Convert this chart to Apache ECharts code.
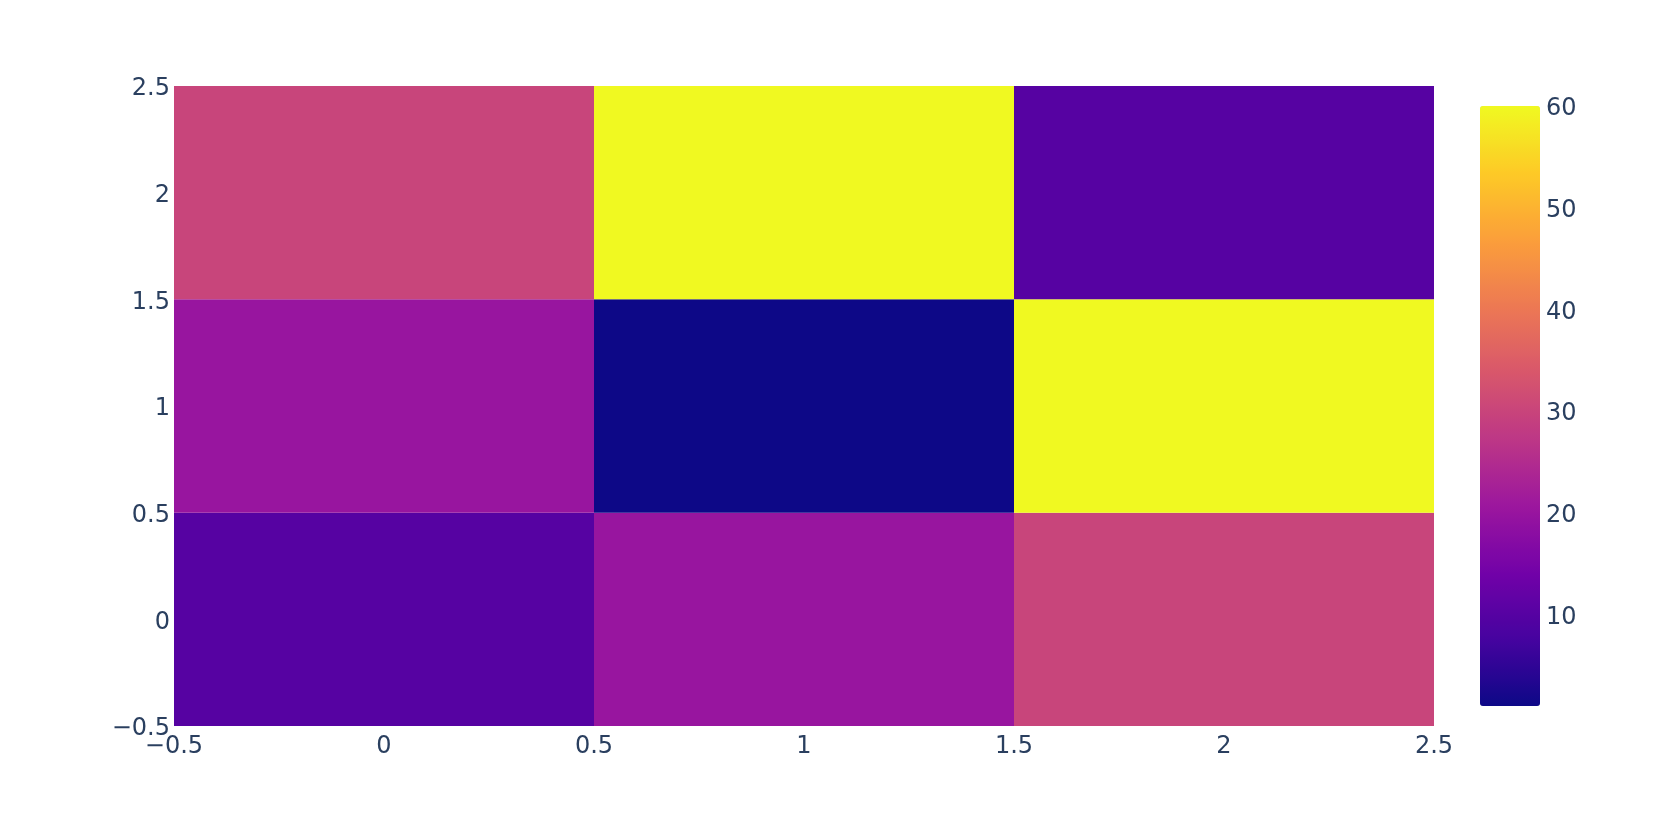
<!DOCTYPE html>
<html>
<head>
<meta charset="utf-8">
<script src="https://cdn.jsdelivr.net/npm/echarts@6/dist/echarts.min.js"></script>
<style>html,body{margin:0;padding:0;background:#fff;}#c{width:1660px;height:818px;}</style>
</head>
<body>
<div id="c"></div>
<script>
const xValues = [0, 1, 2];
const yValues = [0, 1, 2];
const zRows = [
  [10, 20, 30],
  [20, 1, 60],
  [30, 60, 10]
];
const colorbarTicks = [10, 20, 30, 40, 50, 60];
const zMin = 1, zMax = 60;
const plasma = ['#0d0887', '#46039f', '#7201a8', '#9c179e', '#bd3786', '#d8576b', '#ed7953', '#fb9f3a', '#fdca26', '#f0f921'];

const cells = [];
yValues.forEach((y, yi) => xValues.forEach((x, xi) => cells.push([x, y, zRows[yi][xi]])));

const fmt = v => String(v).replace('-', '\u2212');
const fmtRich = v => '{t|' + fmt(v) + '}';
const fontFamily = '"DejaVu Sans", Verdana, sans-serif';
const labelStyle = { color: '#2a3f5f', fontSize: 24, fontFamily };
const richShift = { t: { color: '#2a3f5f', fontSize: 24, fontFamily, padding: [6, 0, 0, 0] } };

const chart = echarts.init(document.getElementById('c'), null, { renderer: 'canvas' });
chart.setOption({
  backgroundColor: '#fff',
  animation: false,
  grid: [
    { left: 174, top: 86, width: 1260, height: 640, containLabel: false },
    { left: 1480, top: 106, width: 60, height: 600, containLabel: false }
  ],
  xAxis: [
    {
      type: 'value', gridIndex: 0, min: -0.5, max: 2.5, interval: 0.5,
      axisLine: { show: false }, axisTick: { show: false }, splitLine: { show: false },
      axisLabel: Object.assign({ margin: 9, formatter: fmt }, labelStyle)
    },
    { type: 'value', gridIndex: 1, show: false, min: 0, max: 1 }
  ],
  yAxis: [
    {
      type: 'value', gridIndex: 0, min: -0.5, max: 2.5, interval: 0.5,
      axisLine: { show: false }, axisTick: { show: false }, splitLine: { show: false },
      axisLabel: Object.assign({ margin: 4, formatter: fmtRich, rich: richShift }, labelStyle)
    },
    {
      type: 'value', gridIndex: 1, min: zMin, max: zMax, position: 'right',
      axisLine: { show: false }, axisTick: { show: false }, splitLine: { show: false },
      axisLabel: Object.assign({ margin: 6, customValues: colorbarTicks, formatter: fmtRich, rich: richShift }, labelStyle)
    }
  ],
  visualMap: {
    type: 'continuous', min: zMin, max: zMax, dimension: 2, seriesIndex: 0,
    calculable: false, hoverLink: false, showLabel: false, text: null,
    orient: 'vertical', left: 1480, top: 106, itemWidth: 60, itemHeight: 600, padding: 0,
    inRange: { color: plasma }
  },
  series: [
    {
      type: 'custom', xAxisIndex: 0, yAxisIndex: 0,
      data: cells,
      renderItem: function (params, api) {
        const x = api.value(0), y = api.value(1);
        const p1 = api.coord([x - 0.5, y + 0.5]);
        const p2 = api.coord([x + 0.5, y - 0.5]);
        return {
          type: 'rect',
          shape: { x: p1[0], y: p1[1], width: p2[0] - p1[0], height: p2[1] - p1[1] },
          style: { fill: api.visual('color') }
        };
      }
    }
  ]
});
</script>
</body>
</html>
